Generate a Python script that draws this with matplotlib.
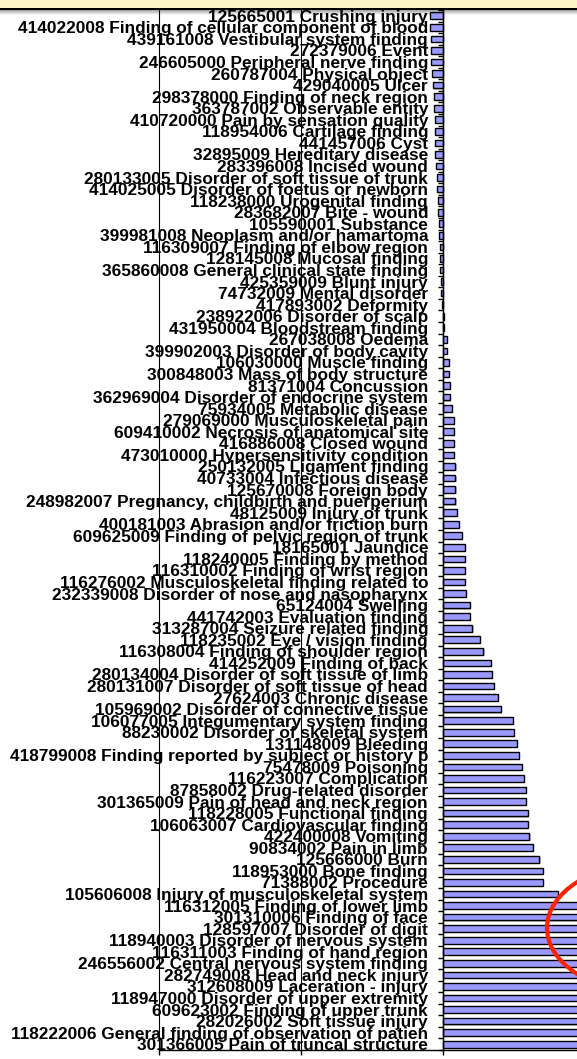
import matplotlib
matplotlib.use('Agg')
import matplotlib.pyplot as plt
import numpy as np
from matplotlib.patches import Rectangle, Ellipse
import matplotlib.patheffects as pe

categories = [
    "125665001 Crushing injury",
    "414022008 Finding of cellular component of blood",
    "439161008 Vestibular system finding",
    "272379006 Event",
    "246605000 Peripheral nerve finding",
    "260787004 Physical object",
    "429040005 Ulcer",
    "298378000 Finding of neck region",
    "363787002 Observable entity",
    "410720000 Pain by sensation quality",
    "118954006 Cartilage finding",
    "441457006 Cyst",
    "32895009 Hereditary disease",
    "283396008 Incised wound",
    "280133005 Disorder of soft tissue of trunk",
    "414025005 Disorder of foetus or newborn",
    "118238000 Urogenital finding",
    "283682007 Bite - wound",
    "105590001 Substance",
    "399981008 Neoplasm and/or hamartoma",
    "116309007 Finding of elbow region",
    "128145008 Mucosal finding",
    "365860008 General clinical state finding",
    "425359009 Blunt injury",
    "74732009 Mental disorder",
    "417893002 Deformity",
    "238922006 Disorder of scalp",
    "431950004 Bloodstream finding",
    "267038008 Oedema",
    "399902003 Disorder of body cavity",
    "106030000 Muscle finding",
    "300848003 Mass of body structure",
    "81371004 Concussion",
    "362969004 Disorder of endocrine system",
    "75934005 Metabolic disease",
    "279069000 Musculoskeletal pain",
    "609410002 Necrosis of anatomical site",
    "416886008 Closed wound",
    "473010000 Hypersensitivity condition",
    "250132005 Ligament finding",
    "40733004 Infectious disease",
    "125670008 Foreign body",
    "248982007 Pregnancy, childbirth and puerperium",
    "48125009 Injury of trunk",
    "400181003 Abrasion and/or friction burn",
    "609625009 Finding of pelvic region of trunk",
    "18165001 Jaundice",
    "118240005 Finding by method",
    "116310002 Finding of wrist region",
    "116276002 Musculoskeletal finding related to",
    "232339008 Disorder of nose and nasopharynx",
    "65124004 Swelling",
    "441742003 Evaluation finding",
    "313287004 Seizure related finding",
    "118235002 Eye / vision finding",
    "116308004 Finding of shoulder region",
    "414252009 Finding of back",
    "280134004 Disorder of soft tissue of limb",
    "280131007 Disorder of soft tissue of head",
    "27624003 Chronic disease",
    "105969002 Disorder of connective tissue",
    "106077005 Integumentary system finding",
    "88230002 Disorder of skeletal system",
    "131148009 Bleeding",
    "418799008 Finding reported by subject or history p",
    "75478009 Poisoning",
    "116223007 Complication",
    "87858002 Drug-related disorder",
    "301365009 Pain of head and neck region",
    "118228005 Functional finding",
    "106063007 Cardiovascular finding",
    "422400008 Vomiting",
    "90834002 Pain in limb",
    "125666000 Burn",
    "118953000 Bone finding",
    "71388002 Procedure",
    "105606008 Injury of musculoskeletal system",
    "116312005 Finding of lower limb",
    "301310006 Finding of face",
    "128597007 Disorder of digit",
    "118940003 Disorder of nervous system",
    "116311003 Finding of hand region",
    "246556002 Central nervous system finding",
    "282749008 Head and neck injury",
    "312608009 Laceration - injury",
    "118947000 Disorder of upper extremity",
    "609623002 Finding of upper trunk",
    "282026002 Soft tissue injury",
    "118222006 General finding of observation of patien",
    "301366005 Pain of truncal structure",
]

values = [
    -9.2, -9.2, -8.5, -8.2, -8.1, -8.0, -7.3, -6.3, -6.0, -5.9,
    -5.8, -5.4, -5.3, -4.6, -4.5, -4.2, -3.4, -3.3, -2.8, -2.7,
    -2.1, -2.0, -2.0, -1.5, -1.3, -1.0, 0.5, 0.9, 2.6, 2.6,
    3.9, 3.9, 5.2, 5.2, 6.5, 7.7, 7.7, 7.7, 7.7, 8.8,
    8.8, 8.8, 8.8, 10.1, 11.4, 13.4, 15.3, 15.3, 15.3, 15.3,
    16.2, 18.7, 18.7, 20.7, 25.9, 28.5, 33.7, 34.7, 36.1, 38.6,
    40.7, 49.3, 49.8, 52.3, 53.7, 55.7, 56.8, 58.3, 58.3, 59.6,
    59.6, 60.9, 63.2, 67.9, 70.4, 70.4, 80.7, 110, 115, 120,
    128, 135, 142, 150, 160, 172, 185, 200, 220, 245,
]

value_ticks = [-200, -100, 0, 100, 200]

W, H, DPI = 577, 1059, 100
fig = plt.figure(figsize=(W / DPI, H / DPI), dpi=DPI)
fig.patch.set_facecolor('white')

# plot area geometry (pixels); chart is cropped on the right
x_left_px, step_px = 159, 142
xmin, xmax = value_ticks[0], value_ticks[-1]
ax_w_px = (xmax - xmin) / 100 * step_px
y_top_px, y_bot_px = 10, 1050
ax = fig.add_axes([x_left_px / W, (H - y_bot_px) / H, ax_w_px / W, (y_bot_px - y_top_px) / H])
ax.set_facecolor('none')

n = len(categories)
pos = np.arange(n)

bars = ax.barh(pos, values, height=0.58, color='#9999FF', edgecolor='black',
               linewidth=1.0, zorder=3)
for b in bars:
    b.set_path_effects([pe.SimplePatchShadow(offset=(0.8, -0.8), shadow_rgbFace='#808080', alpha=0.5),
                        pe.Normal()])

ax.set_xlim(xmin, xmax)
ax.set_ylim(n - 0.5, -0.5)

# value axis
ax.set_xticks(value_ticks)
ax.set_xticklabels([''] * len(value_ticks))
ax.tick_params(axis='x', length=3.6, width=1.0, direction='out', color='black')
ax.xaxis.grid(True, color='black', linewidth=0.8, zorder=1)
ax.set_axisbelow(True)
for gl in ax.get_xgridlines():
    gl.set_clip_on(False)

# category axis at zero
for s in ['top', 'right']:
    ax.spines[s].set_visible(False)
ax.spines['left'].set_position(('data', 0))
ax.spines['left'].set_linewidth(1.0)
ax.spines['bottom'].set_linewidth(1.0)
ax.spines['left'].set_zorder(4)

FONT = ['Liberation Sans', 'DejaVu Sans']
# font size calibrated to label width
fig.canvas.draw()
r = fig.canvas.get_renderer()
t = fig.text(0, 0, categories[1], fontsize=10, fontweight='bold', family=FONT)
w = t.get_window_extent(r).width
t.remove()
fs = 10 * 409 / w

ax.set_yticks(pos)
ax.set_yticklabels(categories, fontsize=fs, fontweight='bold', family=FONT, color='black')
ax.tick_params(axis='y', which='major', length=0, pad=10.8)
ax.set_yticks(np.arange(-0.5, n, 1), minor=True)
ax.tick_params(axis='y', which='minor', length=3.6, width=1.0, direction='out', color='black')

# banner at top (screenshot frame)
fig.add_artist(Rectangle((0, (H - 7.5) / H), 1, 7.5 / H, transform=fig.transFigure,
                         facecolor='#FBF5C8', edgecolor='none', zorder=20))
fig.add_artist(Rectangle((0, (H - 9.5) / H), 1, 2 / H, transform=fig.transFigure,
                         facecolor='black', edgecolor='none', zorder=21))
gax = fig.add_axes([0, (H - 15) / H, 1, 5.5 / H], zorder=19)
gax.set_facecolor('none')
shade = np.zeros((32, 1, 4))
shade[:, 0, 3] = np.linspace(0.45, 0.0, 32)
gax.imshow(shade, aspect='auto', interpolation='bilinear')
gax.axis('off')

# red annotation ellipse
fig.add_artist(Ellipse((6.50, (H - 928) / DPI), 2.06, 1.30, transform=fig.dpi_scale_trans,
                       fill=False, edgecolor='#FF2200', linewidth=3.0, zorder=25))

fig.savefig('out.png', dpi=DPI)
